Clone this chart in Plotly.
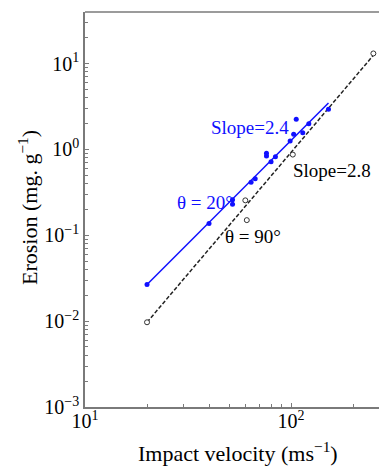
import plotly.graph_objects as go

# ---- data ----
v20 = [20, 40, 52, 52, 64, 67, 76, 76, 80, 84, 99, 103, 106, 114, 122, 152]
e20 = [0.0267, 0.137, 0.26, 0.23, 0.415, 0.455, 0.90, 0.835, 0.72, 0.82, 1.25, 1.50, 2.24, 1.56, 1.99, 2.93]
v90 = [20, 60, 61, 102, 251]
e90 = [0.0097, 0.255, 0.150, 0.87, 13.1]

fit20_v = [20, 152]
fit20_slope = 2.4
fit20_y0 = 0.0267
fit90_v = [20, 251]
fit90_slope = 2.83
fit90_y0 = 0.0097

x_ticks = [10, 100]
x_ticktext = ["10<sup>1</sup>", "10<sup>2</sup>"]
y_ticks = [1e-3, 1e-2, 1e-1, 1, 10]
y_ticktext = ["10<sup>−3</sup>", "10<sup>−2</sup>", "10<sup>−1</sup>", "10<sup>0</sup>", "10<sup>1</sup>"]

BLUE = "#1010ff"
AX = "#7a7a7a"
FONT = "Liberation Serif"

fit20_e = [fit20_y0 * (v / fit20_v[0]) ** fit20_slope for v in fit20_v]
fit90_e = [fit90_y0 * (v / fit90_v[0]) ** fit90_slope for v in fit90_v]

fig = go.Figure()
fig.add_trace(go.Scatter(x=fit20_v, y=fit20_e, mode="lines",
                         line=dict(color=BLUE, width=1.5), hoverinfo="skip"))
fig.add_trace(go.Scatter(x=fit90_v, y=fit90_e, mode="lines",
                         line=dict(color="#222222", width=1.5, dash="4px,2px"), hoverinfo="skip"))
fig.add_trace(go.Scatter(x=v20, y=e20, mode="markers",
                         marker=dict(color=BLUE, size=5, line=dict(width=0))))
fig.add_trace(go.Scatter(x=v90, y=e90, mode="markers",
                         marker=dict(color="white", size=5, line=dict(color="#333333", width=1))))

minor_x = [m * 10 ** k for k in range(1, 3) for m in range(2, 10)]
minor_y = [m * 10.0 ** k for k in range(-3, 2) for m in range(2, 10)]

fig.update_xaxes(type="log", range=[1, 2.427], showgrid=False, zeroline=False,
                 showline=True, linecolor=AX, linewidth=2, mirror=False,
                 tickmode="array", tickvals=x_ticks, ticktext=x_ticktext,
                 ticks="inside", ticklen=4, tickcolor=AX, tickwidth=1,
                 ticklabelstandoff=-5,
                 minor=dict(tickmode="array", tickvals=minor_x, ticks="inside",
                            ticklen=3, tickcolor=AX, showgrid=False),
                 tickfont=dict(family=FONT, size=20, color="black"))
fig.update_yaxes(type="log", range=[-3, 1.6], showgrid=False, zeroline=False,
                 showline=True, linecolor=AX, linewidth=1.5, mirror=False,
                 tickmode="array", tickvals=y_ticks, ticktext=y_ticktext,
                 ticks="inside", ticklen=4, tickcolor=AX, tickwidth=1,
                 minor=dict(tickmode="array", tickvals=minor_y, ticks="inside",
                            ticklen=3, tickcolor=AX, showgrid=False),
                 tickfont=dict(family=FONT, size=20, color="black"))

ann_font = dict(family=FONT, size=19)
annotations = [
    dict(text="Slope=2.4", x=1.801, y=0.256, font=dict(color=BLUE, **ann_font)),
    dict(text="Slope=2.8", x=2.198, y=-0.241, font=dict(color="black", **ann_font)),
    dict(text="θ = 20°", x=1.583, y=-0.621, font=dict(color=BLUE, **ann_font)),
    dict(text="θ = 90°", x=1.816, y=-1.018, font=dict(color="black", **ann_font)),
]
for a in annotations:
    fig.add_annotation(xref="x", yref="y", showarrow=False, xanchor="center",
                       yanchor="middle", **a)

# axis titles
fig.add_annotation(text="Impact velocity (ms<sup>−1</sup>)", xref="paper", yref="paper",
                   x=(238 - 85) / 294, y=-(452 - 407) / 395, showarrow=False,
                   xanchor="center", yanchor="middle",
                   font=dict(family=FONT, size=22, color="black"))
fig.add_annotation(text="Erosion (mg. g<sup>−1</sup>)", xref="paper", yref="paper",
                   x=-(85 - 28) / 294, y=(407 - 208) / 395, showarrow=False, textangle=-90,
                   xanchor="center", yanchor="middle",
                   font=dict(family=FONT, size=22, color="black"))

# top frame line
fig.add_shape(type="line", xref="paper", yref="paper", x0=0, x1=1, y0=1, y1=1,
              line=dict(color=AX, width=1.5))

fig.update_layout(width=379, height=468, margin=dict(l=85, r=0, t=12, b=61),
                  paper_bgcolor="white", plot_bgcolor="white", showlegend=False,
                  font=dict(family=FONT, color="black"))

fig.write_html("out.html")
